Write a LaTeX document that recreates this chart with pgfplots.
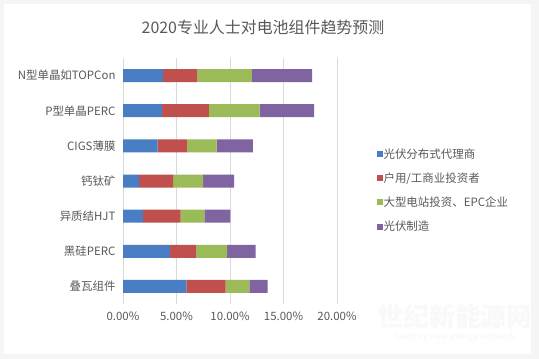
\documentclass[border=0pt]{standalone}
\usepackage{pgfplots}
\pgfplotsset{compat=1.18}
\usepackage{fontspec}
\setmainfont{Noto Sans CJK SC}
\definecolor{cBlue}{HTML}{4A7EC4}
\definecolor{cRed}{HTML}{C0504D}
\definecolor{cGreen}{HTML}{9BBB59}
\definecolor{cPurple}{HTML}{8064A2}
\definecolor{txt}{HTML}{595959}
\begin{document}
\begin{tikzpicture}
\path[use as bounding box] (0,0) rectangle (539bp,359bp);
\fill[gray!8] (0,0) rectangle (539bp,359bp);
\fill[white] (4bp,5bp) rectangle (531bp,355bp);
\node[text=gray!5, font=\fontsize{26}{28}\selectfont\bfseries\itshape] at (455bp,42bp) {世纪新能源网};
\node[text=gray!7, font=\fontsize{9}{10}\selectfont\itshape] at (455bp,22bp) {Century new energy network};
\node[text=txt, font=\fontsize{16}{19}\selectfont] at (263bp,332bp) {2020专业人士对电池组件趋势预测};
\begin{axis}[
  at={(123bp,55bp)}, anchor=south west,
  scale only axis, width=214bp, height=246bp,
  xbar stacked, bar width=13bp,
  xmin=0, xmax=20, ymin=-0.5, ymax=6.5, y dir=reverse,
  ytick={0,1,2,3,4,5,6},
  yticklabels={N型单晶如TOPCon,P型单晶PERC,CIGS薄膜,钙钛矿,异质结HJT,黑硅PERC,叠瓦组件},
  xtick={0,5,10,15,20},
  xticklabels={0.00\%,5.00\%,10.00\%,15.00\%,20.00\%},
  xmajorgrids, grid style={draw=black!15, line width=0.6pt},
  axis line style={draw=none},
  major tick length=0pt,
  tick label style={text=txt, font=\fontsize{11.5}{13}\selectfont},
  xticklabel style={yshift=-4bp},
  yticklabel style={xshift=-4bp},
  legend style={at={(1.17,0.645)}, anchor=north west, draw=none, fill=none,
    font=\fontsize{11.5}{13}\selectfont, text=txt, row sep=11bp,
    nodes={inner sep=1bp}},
  legend cell align=left,
  legend image code/.code={\fill[#1] (0bp,-3bp) rectangle (6bp,3bp);},
]
\addplot[fill=cBlue, draw=none] coordinates {(3.74,0) (3.64,1) (3.24,2) (1.50,3) (1.87,4) (4.39,5) (5.92,6)};
\addplot[fill=cRed, draw=none] coordinates {(3.20,0) (4.39,1) (2.77,2) (3.18,3) (3.52,4) (2.43,5) (3.67,6)};
\addplot[fill=cGreen, draw=none] coordinates {(5.10,0) (4.73,1) (2.74,2) (2.80,3) (2.21,4) (2.90,5) (2.21,6)};
\addplot[fill=cPurple, draw=none] coordinates {(5.64,0) (5.11,1) (3.39,2) (2.90,3) (2.43,4) (2.68,5) (1.71,6)};
\legend{光伏分布式代理商,户用/工商业投资者,大型电站投资、EPC企业,光伏制造}
\end{axis}
\end{tikzpicture}
\end{document}
